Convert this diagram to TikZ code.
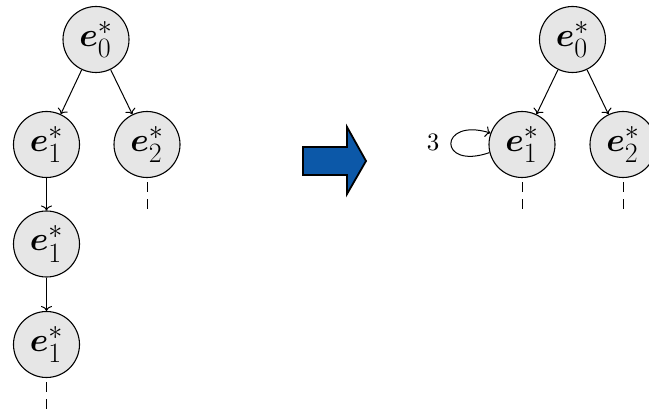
\documentclass[tikz,border=0pt]{standalone}
\usepackage{amsmath}
\usepackage{bm}
\usepackage{graphicx}
\usetikzlibrary{arrows.meta}
\definecolor{nodegray}{RGB}{230,230,230}
\definecolor{bigblue}{RGB}{12,88,168}
\newcommand{\ev}[1]{\scalebox{1.35}{$\bm{e}^*_{#1}$}}
\tikzset{
  enode/.style={circle, draw, fill=nodegray, line width=1.1pt, minimum size=66pt, inner sep=0pt, font=\fontsize{24.88}{30}\selectfont},
  conn/.style={-{To[length=5pt,width=11pt]}, line width=1pt},
  dots/.style={line width=1pt, dash pattern=on 10pt off 7pt, dash phase=13pt},
  bigarrow/.style={fill=bigblue, draw=black, line width=1.8pt, line join=miter},
}
\begin{document}
\begin{tikzpicture}[x=1pt,y=1pt]
\useasboundingbox (0,0) rectangle (649,-414);
\begin{scope}
\clip (0,0) rectangle (649,-414);
% left tree
\node[enode] (a0) at (96,-39.5) {\ev{0}};
\node[enode] (a1) at (46.5,-144.5) {\ev{1}};
\node[enode] (a2) at (147,-144.5) {\ev{2}};
\node[enode] (a3) at (46.5,-244) {\ev{1}};
\node[enode] (a4) at (46.5,-344.5) {\ev{1}};
\coordinate (a2d) at (147,-210);
\coordinate (a4d) at (46.5,-414);
\draw[conn] (a0) -- (a1);
\draw[conn] (a0) -- (a2);
\draw[conn] (a1) -- (a3);
\draw[conn] (a3) -- (a4);
\draw[dots] (a2.south) -- (a2d);
\draw[dots] (a4.south) -- (a4d);
% block arrow
\draw[bigarrow] (303,-147) -- (347,-147) -- (347,-127) -- (366,-161) -- (347,-194) -- (347,-175) -- (303,-175) -- cycle;
% right tree
\node[enode] (b0) at (572.5,-39.5) {\ev{0}};
\node[enode] (b1) at (522,-144.5) {\ev{1}};
\node[enode] (b2) at (623,-144.5) {\ev{2}};
\coordinate (b1d) at (522,-210);
\coordinate (b2d) at (623,-210);
\draw[conn] (b0) -- (b1);
\draw[conn] (b0) -- (b2);
\draw[dots] (b1.south) -- (b1d);
\draw[dots] (b2.south) -- (b2d);
\draw[conn] (b1.194) .. controls +(-52,-18) and +(-52,16) .. (b1.160);
\node (lbl) at (433,-142) {\scalebox{2.5}{3}};
\end{scope}
\end{tikzpicture}
\end{document}
